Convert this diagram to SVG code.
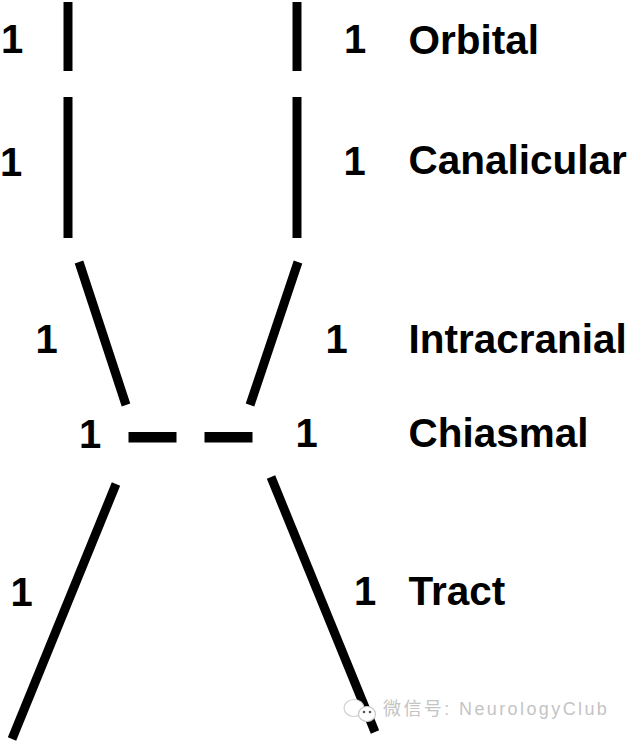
<svg xmlns="http://www.w3.org/2000/svg" width="631" height="744" viewBox="0 0 631 744">
<style>
.seg{stroke:#000;stroke-width:9;stroke-linecap:butt;fill:none}
.num{font-family:"Liberation Sans",Arial,sans-serif;font-weight:bold;font-size:40px;fill:#000;text-anchor:middle}
.lbl{font-family:"Liberation Sans",Arial,sans-serif;font-weight:bold;font-size:40.5px;fill:#000}
.wm{font-family:"Liberation Sans","Noto Sans CJK SC",sans-serif;font-size:18px;fill:#c4c4c4;letter-spacing:2.4px}
</style>
<rect width="631" height="744" fill="#fff"/>
<g id="connectors">
<line class="seg" x1="68" y1="2" x2="68" y2="71"/>
<line class="seg" x1="297" y1="2" x2="297" y2="71"/>
<line class="seg" x1="68" y1="97" x2="68" y2="238"/>
<line class="seg" x1="297" y1="97" x2="297" y2="238"/>
<line class="seg" x1="79" y1="262" x2="126" y2="405"/>
<line class="seg" x1="298" y1="262" x2="250" y2="405"/>
<rect x="128.5" y="432" width="48" height="10.5" fill="#000"/>
<rect x="204.5" y="432" width="48" height="10.5" fill="#000"/>
<line class="seg" x1="116" y1="484" x2="12" y2="739"/>
<line class="seg" x1="271" y1="477" x2="375" y2="732"/>
</g>
<g id="orbital">
<text class="num" x="12" y="53">1</text>
<text class="num" x="355" y="53">1</text>
<text class="lbl" x="408.5" y="54">Orbital</text>
</g>
<g id="canalicular">
<text class="num" x="11" y="176">1</text>
<text class="num" x="354.5" y="175">1</text>
<text class="lbl" x="408.5" y="174">Canalicular</text>
</g>
<g id="intracranial">
<text class="num" x="46.5" y="352.5">1</text>
<text class="num" x="336.5" y="352.5">1</text>
<text class="lbl" x="408.5" y="352.5">Intracranial</text>
</g>
<g id="chiasmal">
<text class="num" x="90" y="448">1</text>
<text class="num" x="306.5" y="447">1</text>
<text class="lbl" x="408.5" y="447">Chiasmal</text>
</g>
<g id="tract">
<text class="num" x="21.5" y="606">1</text>
<text class="num" x="365" y="605">1</text>
<text class="lbl" x="408.5" y="605">Tract</text>
</g>
<g id="watermark">
<ellipse cx="354" cy="708" rx="10" ry="8.5" fill="#fff" stroke="#d0d0d0" stroke-width="1.2"/>
<ellipse cx="367" cy="714" rx="8.5" ry="7.5" fill="#fff" stroke="#c8c8c8" stroke-width="1.2"/>
<circle cx="364" cy="712" r="1.3" fill="#555"/>
<circle cx="370" cy="712" r="1.3" fill="#555"/>
<text class="wm" x="383" y="715">微信号: NeurologyClub</text>
</g>
</svg>
